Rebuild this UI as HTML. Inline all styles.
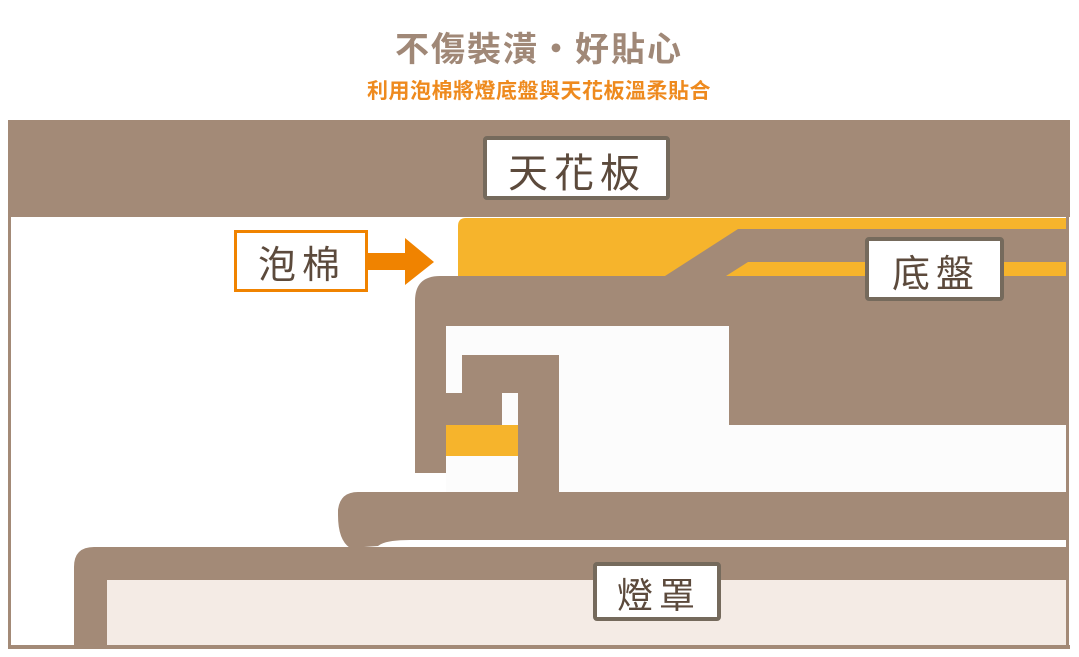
<!DOCTYPE html>
<html><head><meta charset="utf-8"><style>
html,body{margin:0;padding:0;background:#fff;width:1079px;height:657px;overflow:hidden}
svg{display:block}
text{font-family:"Liberation Sans","Noto Sans CJK TC",sans-serif}
</style></head><body>
<svg width="1079" height="657" viewBox="0 0 1079 657" xmlns="http://www.w3.org/2000/svg">
<text x="539" y="61" text-anchor="middle" font-size="34" font-weight="bold" fill="#A08877" letter-spacing="2">不傷裝潢・好貼心</text>
<text x="539" y="98" text-anchor="middle" font-size="21" font-weight="bold" fill="#EE8A1E" letter-spacing="0.5">利用泡棉將燈底盤與天花板溫柔貼合</text>
<!-- frame -->
<rect x="9.5" y="121.5" width="1058" height="526" fill="#fff" stroke="#A38A77" stroke-width="3"/>
<rect x="446" y="326" width="620" height="166" fill="#FCFCFC"/>
<rect x="8" y="120" width="1062" height="97" fill="#A38A77"/>
<path d="M466 218 H1066 V276 H458 V226 Q458 218 466 218Z" fill="#F6B42C"/>
<path d="M665 276 L738 229 H1066 V262 H748 L726 276Z" fill="#A38A77"/>
<path d="M440 276 H1066 V425 H729 V326 H446 V473 H415 V301 Q415 276 440 276Z" fill="#A38A77"/>
<rect x="462" y="355" width="97" height="38" fill="#A38A77"/>
<rect x="518" y="355" width="41" height="137" fill="#A38A77"/>
<rect x="446" y="393" width="56" height="36" fill="#A38A77"/>
<rect x="446" y="425" width="72" height="31" fill="#F6B42C"/>
<path d="M358 492 H1066 V540 H410 Q385 540 378 546 L350 548 Q338 540 338 515 V510 Q340 492 358 492Z" fill="#A38A77"/>
<path d="M94 547 H1066 V580 H107 V648 H74 V567 Q74 547 94 547Z" fill="#A38A77"/>
<rect x="107" y="580" width="959" height="65" fill="#F4EBE5"/>
<rect x="8" y="645" width="1062" height="4" fill="#A38A77"/>
<rect x="485" y="138" width="183" height="60" fill="#fff" stroke="#756A5C" stroke-width="4" rx="2"/>
<text x="577" y="187" text-anchor="middle" font-size="40" fill="#5C4A3C" letter-spacing="6">天花板</text>
<rect x="235.5" y="231.5" width="131" height="59" fill="#fff" stroke="#F08300" stroke-width="3"/>
<text x="302" y="278" text-anchor="middle" font-size="38" fill="#5C4A3C" letter-spacing="6">泡棉</text>
<path d="M367 253 H405 V238 L434 262 L405 285 V270 H367Z" fill="#F08300"/>
<rect x="867" y="239" width="135" height="60" fill="#fff" stroke="#756A5C" stroke-width="4" rx="2"/>
<text x="936" y="287" text-anchor="middle" font-size="38" fill="#5C4A3C" letter-spacing="6">底盤</text>
<rect x="595" y="564" width="124" height="55" fill="#fff" stroke="#756A5C" stroke-width="4" rx="2"/>
<text x="659" y="608" text-anchor="middle" font-size="36" fill="#5C4A3C" letter-spacing="6">燈罩</text>
</svg>
</body></html>
